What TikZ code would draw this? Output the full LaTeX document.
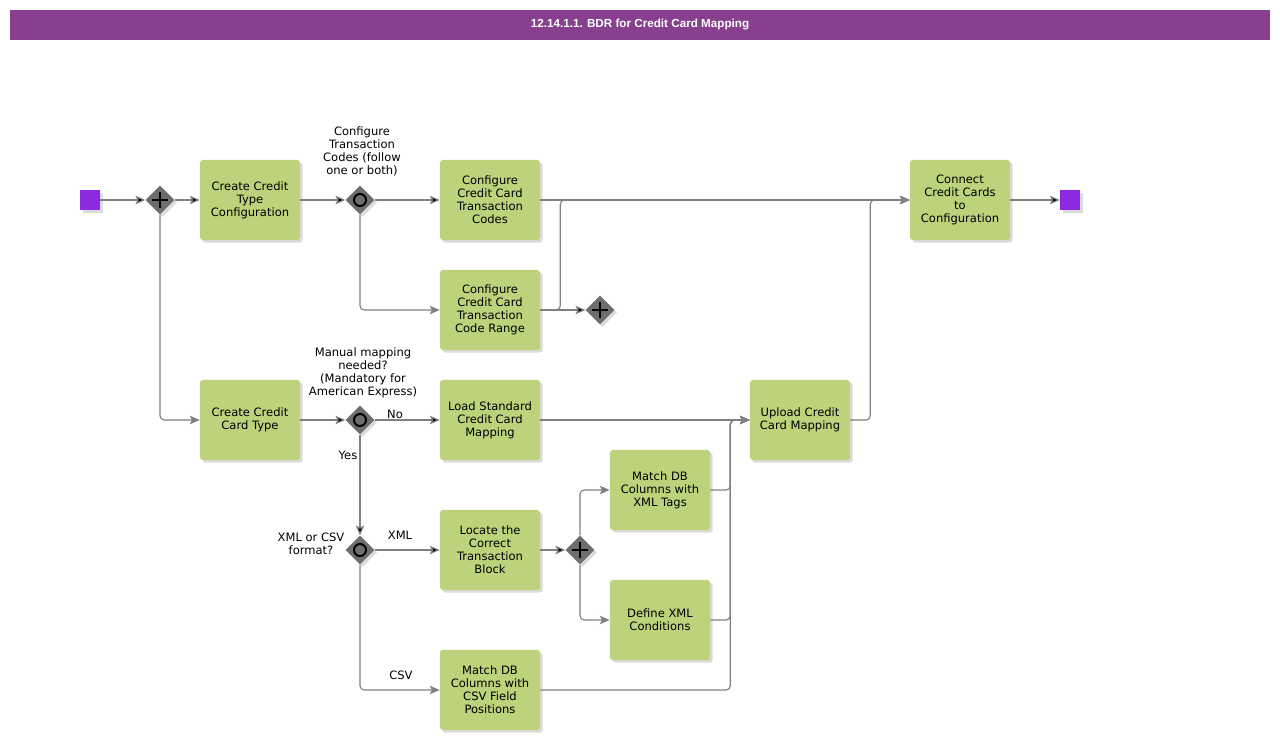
\documentclass[tikz,border=0pt]{standalone}
\usepackage{fontspec}
\setmainfont{DejaVu Sans}
\newfontfamily\titlefont{Liberation Sans}
\usetikzlibrary{shapes.geometric,shadows,arrows.meta}

\definecolor{titlepurple}{RGB}{135,63,142}
\definecolor{taskgreen}{RGB}{189,211,123}
\definecolor{eventpurple}{RGB}{138,43,226}
\definecolor{gatewaygray}{RGB}{110,110,110}
\definecolor{flowgray}{RGB}{128,128,128}

\begin{document}
\begin{tikzpicture}[%
    x=0.025cm,
    y=-0.025cm,
    >={Stealth[length=7pt,width=6pt,inset=1.5pt]},
    font=\fontsize{8.2}{9.2}\selectfont,
    shade/.style={general shadow={shadow xshift=1.8pt,shadow yshift=-1.8pt,fill=black!14}},
    titlebar/.style={fill=titlepurple,text=white,minimum width=31.5cm,minimum height=0.75cm,
      font=\titlefont\bfseries\fontsize{8.3}{10}\selectfont},
    task/.style={shade,fill=taskgreen,rounded corners=2pt,minimum width=2.5cm,
      minimum height=2cm,align=center,inner sep=1pt},
    event/.style={shade,fill=eventpurple,minimum size=0.5cm,inner sep=0pt},
    gateway/.style={shade,diamond,fill=gatewaygray,minimum size=0.72cm,inner sep=0pt},
    andgw/.style={gateway,path picture={
      \draw[black,line width=2.1pt]
        ([xshift=-6pt]path picture bounding box.center) -- ([xshift=6pt]path picture bounding box.center)
        ([yshift=-6pt]path picture bounding box.center) -- ([yshift=6pt]path picture bounding box.center);}},
    orgw/.style={gateway,path picture={
      \draw[black,line width=1.4pt] (path picture bounding box.center) circle (4.3pt);}},
    gwlabel/.style={align=center,inner sep=0pt},
    flow/.style={->,draw=flowgray,line width=0.8pt,rounded corners=3pt}
  ]

  \useasboundingbox (0,0) rectangle (1280,740);

  \node[titlebar] (title) at (640,25) {12.14.1.1. BDR for Credit Card Mapping};

  % top branch
  \node[event] (start) at (90,200) {};
  \node[andgw] (split) at (160,200) {};
  \node[task] (typeconf) at (250,200) {Create Credit\\Type\\Configuration};
  \node[orgw] (codesgw) at (360,200) {};
  \node[gwlabel] (codeslbl) at (362,151) {Configure\\Transaction\\Codes (follow\\one or both)};
  \node[task] (codes) at (490,200) {Configure\\Credit Card\\Transaction\\Codes};
  \node[task] (range) at (490,310) {Configure\\Credit Card\\Transaction\\Code Range};
  \node[andgw] (rangegw) at (600,310) {};
  \node[task] (connect) at (960,200) {Connect\\Credit Cards\\to\\Configuration};
  \node[event] (end) at (1070,200) {};

  % bottom branch
  \node[task] (cardtype) at (250,420) {Create Credit\\Card Type};
  \node[orgw] (manualgw) at (360,420) {};
  \node[gwlabel] (manuallbl) at (363,373) {Manual mapping\\needed?\\(Mandatory for\\American Express)};
  \node[task] (standard) at (490,420) {Load Standard\\Credit Card\\Mapping};
  \node[task] (upload) at (800,420) {Upload Credit\\Card Mapping};
  \node[orgw] (formatgw) at (360,550) {};
  \node[gwlabel] (formatlbl) at (311,544) {XML or CSV\\format?};
  \node[task] (locate) at (490,550) {Locate the\\Correct\\Transaction\\Block};
  \node[andgw] (xmlgw) at (580,550) {};
  \node[task] (xmltags) at (660,490) {Match DB\\Columns with\\XML Tags};
  \node[task] (xmlcond) at (660,620) {Define XML\\Conditions};
  \node[task] (csvpos) at (490,690) {Match DB\\Columns with\\CSV Field\\Positions};

  \node[inner sep=0pt] (nolbl) at (395,414) {No};
  \node[inner sep=0pt] (yeslbl) at (348,455) {Yes};
  \node[inner sep=0pt] (xmllbl) at (400,535) {XML};
  \node[inner sep=0pt] (csvlbl) at (401,675) {CSV};

  \path[flow]
      (start)    edge (split)
      (split)    edge (typeconf)
      (typeconf) edge (codesgw)
      (codesgw)  edge (codes)
      (codes)    edge (connect)
      (range)    edge (rangegw)
      (connect)  edge (end)
      (cardtype) edge (manualgw)
      (manualgw) edge (standard)
                 edge (formatgw)
      (standard) edge (upload)
      (formatgw) edge (locate)
      (locate)   edge (xmlgw);

  \draw[flow] (split) |- (cardtype);
  \draw[flow] (codesgw) |- (range);
  \draw[flow] (range.east) -- ++(20,0) |- (connect);
  \draw[flow] (upload.east) -- ++(20,0) |- (connect);
  \draw[flow] (formatgw) |- (csvpos);
  \draw[flow] (xmlgw) |- (xmltags);
  \draw[flow] (xmlgw) |- (xmlcond);
  \draw[flow] (xmltags.east) -- ++(20,0) |- (upload);
  \draw[flow] (xmlcond.east) -- ++(20,0) |- (upload);
  \draw[flow] (csvpos.east) -- ++(190,0) |- (upload);

\end{tikzpicture}
\end{document}
